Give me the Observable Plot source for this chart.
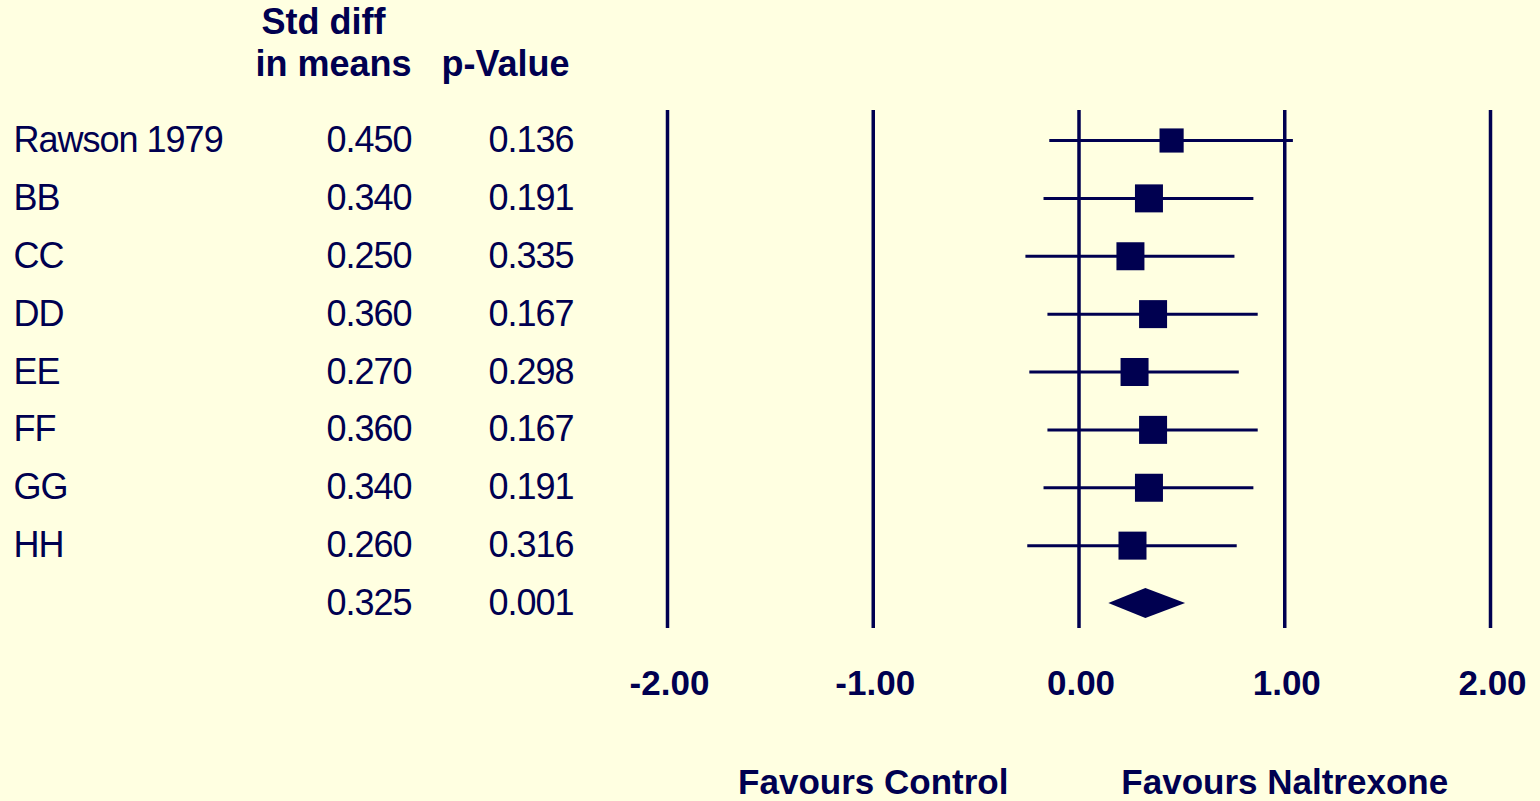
<!DOCTYPE html>
<html>
<head>
<meta charset="utf-8">
<script src="https://cdn.jsdelivr.net/npm/d3@7"></script>
<script src="https://cdn.jsdelivr.net/npm/@observablehq/plot@0.6"></script>
<style>
  html, body { margin: 0; padding: 0; background: #FFFFE1; overflow: hidden; }
  #chart svg { display: block; }
  #chart .body-text text { letter-spacing: -1px; }
</style>
</head>
<body>
<div id="chart"></div>
<script>
// ---- data ----
const studies   = ["Rawson 1979", "BB", "CC", "DD", "EE", "FF", "GG", "HH"];
const stdDiff   = [0.450, 0.340, 0.250, 0.360, 0.270, 0.360, 0.340, 0.260];
const lowerCI   = [-0.142, -0.170, -0.258, -0.151, -0.239, -0.151, -0.170, -0.249];
const upperCI   = [1.042, 0.850, 0.758, 0.871, 0.779, 0.871, 0.850, 0.769];
const pValues   = [0.136, 0.191, 0.335, 0.167, 0.298, 0.167, 0.191, 0.316];
const weights   = [9.6, 12.9, 12.9, 12.9, 12.9, 12.9, 12.9, 12.9];
const summaryEst = 0.325, summaryLower = 0.145, summaryUpper = 0.518, summaryP = 0.001;
const xTicks    = [-2, -1, 0, 1, 2];
const favourLabels = ["Favours Control", "Favours Naltrexone"];
const favourAt     = [-1, 1];
const headerEst = ["Std diff", "in means"];
const headerP   = "p-Value";

// ---- layout / style ----
const W = 1540, H = 801;
const xRange = [667, 1490], yRange = [140, 603];
const navy = "#000050";
const bg = "#FFFFE1";
const f3 = d3.format(".3f");
const f2 = d => d3.format(".2f")(d).replace("\u2212", "-");
const font = "'Liberation Sans', Arial, sans-serif";
// pixel anchors of the table columns / header lines, expressed in the plot's scale units
const toX = d3.scaleLinear(xRange, [-2, 2]);
const toY = d3.scaleLinear(yRange, [0, 8]);
const colStudy = toX(13), colEst = toX(411), colP = toX(573), colHead1 = toX(385), colHeadP = toX(569);
const headLine1 = toY(22), headLine2 = toY(64), favourLine = toY(782);

// ---- tables ----
const rows = studies.map((s, i) => ({
  i, study: s, est: stdDiff[i], lo: lowerCI[i], hi: upperCI[i], p: pValues[i], w: weights[i]
}));
const summaryRow = {i: studies.length, study: "", est: summaryEst, lo: summaryLower, hi: summaryUpper, p: summaryP};
const allRows = [...rows, summaryRow];
const dh = 0.26; // diamond half height in row units
const diamond = [
  {x: summaryLower, y1: summaryRow.i, y2: summaryRow.i},
  {x: summaryEst, y1: summaryRow.i - dh, y2: summaryRow.i + dh},
  {x: summaryUpper, y1: summaryRow.i, y2: summaryRow.i}
];
const favours = favourLabels.map((t, k) => ({x: favourAt[k], text: t}));
const headers = [
  {text: headerEst[0], x: colHead1, y: headLine1},
  {text: headerEst[1], x: colEst, y: headLine2},
  {text: headerP, x: colHeadP, y: headLine2}
];

const bodyText = {fontSize: 36, fill: navy, className: "body-text"};
const boldText = {fontSize: 36, fontWeight: "bold", fill: navy};

const chart = Plot.plot({
  width: W,
  height: H,
  marginTop: 110,
  marginBottom: 173,
  marginLeft: 0,
  marginRight: 0,
  style: {background: bg, color: navy, fontFamily: font},
  x: {domain: [-2, 2], range: xRange},
  y: {domain: [0, 8], range: yRange, axis: null},
  r: {range: [0, 15.8]},
  marks: [
    Plot.ruleX(xTicks, {stroke: navy, strokeWidth: 3.5}),
    Plot.ruleY(rows, {y: "i", x1: "lo", x2: "hi", stroke: navy, strokeWidth: 3}),
    Plot.dot(rows, {x: "est", y: "i", r: "w", symbol: "square", fill: navy, stroke: "none"}),
    Plot.areaY(diamond, {x: "x", y1: "y1", y2: "y2", fill: navy}),
    Plot.axisX({ticks: xTicks, tickSize: 0, tickPadding: 42, tickFormat: f2,
      fontSize: 35, fontWeight: "bold", fill: navy, anchor: "bottom", label: null, dx: 2}),
    Plot.text(favours, {x: "x", y: () => favourLine, text: "text", fontSize: 35, fontWeight: "bold", fill: navy}),
    // table
    Plot.text(rows, {x: () => colStudy, y: "i", text: "study", textAnchor: "start", ...bodyText}),
    Plot.text(allRows, {x: () => colEst, y: "i", text: d => f3(d.est), textAnchor: "end", ...bodyText}),
    Plot.text(allRows, {x: () => colP, y: "i", text: d => f3(d.p), textAnchor: "end", ...bodyText}),
    Plot.text(headers, {x: "x", y: "y", text: "text", textAnchor: "end", ...boldText})
  ]
});

document.getElementById("chart").appendChild(chart);
</script>
</body>
</html>
